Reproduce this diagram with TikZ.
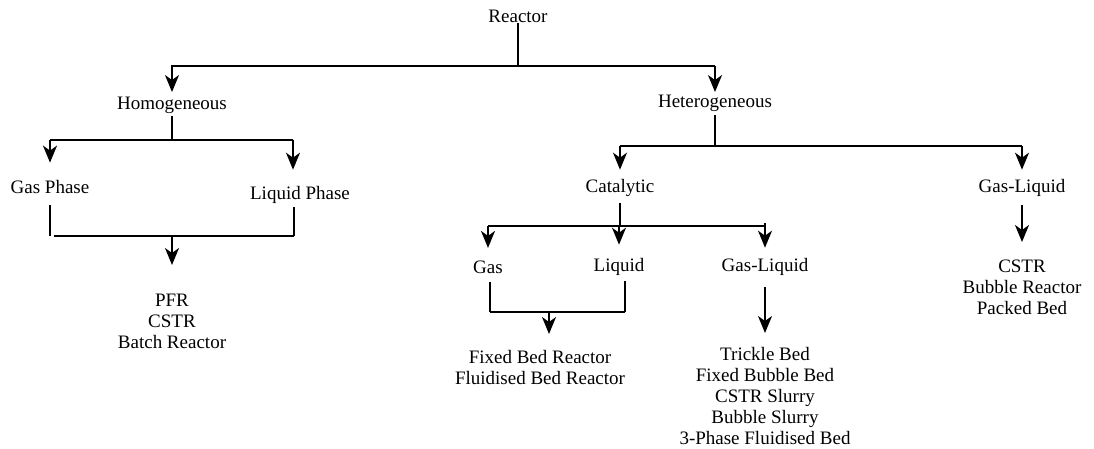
\documentclass[tikz,border=0pt]{standalone}
\usepackage{fontspec}
\setmainfont{Liberation Serif}
\usetikzlibrary{arrows.meta}
\begin{document}
\begin{tikzpicture}[x=1pt,y=-1pt,
    lbl/.style={inner sep=0pt, font=\fontsize{19}{21}\selectfont, align=center},
    ln/.style={line width=1.7pt},
    arr/.style={ln, -{Stealth[length=17pt,width=14pt,inset=5pt]}}]
    \useasboundingbox (0,0) rectangle (1094,448);

    % Draw the labels
    \node[lbl] (reactor) at (518,16) {Reactor};
    \node[lbl] (homo) at (172,105) {Homogeneous};
    \node[lbl] (hetero) at (715,103) {Heterogeneous};
    \node[lbl] (gasph) at (50,187) {Gas Phase};
    \node[lbl] (liqph) at (300,195) {Liquid Phase};
    \node[lbl, anchor=north] (homolist) at (172,294) {PFR\\CSTR\\Batch Reactor};
    \node[lbl] (cat) at (620,188) {Catalytic};
    \node[lbl] (glr) at (1022,188) {Gas-Liquid};
    \node[lbl] (gas) at (488,267) {Gas};
    \node[lbl] (liq) at (619,267) {Liquid};
    \node[lbl] (glm) at (765,267) {Gas-Liquid};
    \node[lbl, anchor=north] (catlist) at (540,350) {Fixed Bed Reactor\\Fluidised Bed Reactor};
    \node[lbl, anchor=north] (glmlist) at (765,347) {Trickle Bed\\Fixed Bubble Bed\\CSTR Slurry\\Bubble Slurry\\3-Phase Fluidised Bed};
    \node[lbl, anchor=north] (glrlist) at (1022,260) {CSTR\\Bubble Reactor\\Packed Bed};

    % Junction points
    \coordinate (j1) at (518,66);
    \coordinate (j2) at (172,140);
    \coordinate (j2r) at (293,140);
    \coordinate (j3) at (715,146);
    \coordinate (j4) at (620,226);
    \coordinate (m1) at (172,236);
    \coordinate (m1l) at (50,236);
    \coordinate (m1r) at (294,236);
    \coordinate (m2) at (549,312);
    \coordinate (m2l) at (490,312);
    \coordinate (m2r) at (625,312);

    % Reactor split
    \draw[ln] (reactor) -- (j1);
    \draw[ln] ([yshift=-3pt]homo |- j1) -- (homo |- j1) -- (hetero |- j1);
    \foreach \c/\s in {homo/4.5pt,hetero/2.5pt}
        \draw[arr, shorten >=\s] (\c |- j1) -- (\c);

    % Homogeneous split
    \draw[ln, shorten <=3pt] (homo) -- (j2);
    \draw[ln] (gasph |- j2) -- (j2r);
    \draw[arr, shorten >=17.5pt] (gasph |- j2) -- (gasph);
    \draw[arr, shorten >=16.5pt] (j2r) -- (j2r |- liqph.north);
    \draw[ln, shorten <=11pt] (gasph.south -| m1l) -- (m1l);
    \draw[ln, shorten <=3pt] (liqph.south -| m1r) -- (m1r);
    \draw[ln] ([xshift=4pt]m1l) -- (m1r);
    \draw[arr, shorten >=29pt] (m1) -- (homolist);

    % Heterogeneous split
    \draw[ln, shorten <=4pt] (hetero) -- (j3);
    \draw[ln] (cat |- j3) -- (glr |- j3);
    \foreach \c in {cat,glr}
        \draw[arr, shorten >=9.5pt] (\c |- j3) -- (\c);
    \draw[arr, shorten <=8pt, shorten >=18pt] (glr) -- (glrlist);

    % Catalytic split
    \draw[ln, shorten <=6pt] (cat) -- (j4);
    \draw[ln] (gas |- j4) -- (glm |- j4) -- ++(0,-3);
    \foreach \c/\s in {gas/12.5pt,liq/13.5pt,glm/10.5pt}
        \draw[arr, shorten >=\s] (\c |- j4) -- (\c);
    \draw[ln, shorten <=8pt] (gas.south -| m2l) -- (m2l);
    \draw[ln, shorten <=5pt] (liq.south -| m2r) -- (m2r);
    \draw[ln] (m2l) -- (m2r);
    \draw[arr, shorten >=16pt] (m2) -- (m2 |- catlist.north);
    \draw[arr, shorten <=11pt, shorten >=14pt] (glm) -- (glmlist);
\end{tikzpicture}
\end{document}
